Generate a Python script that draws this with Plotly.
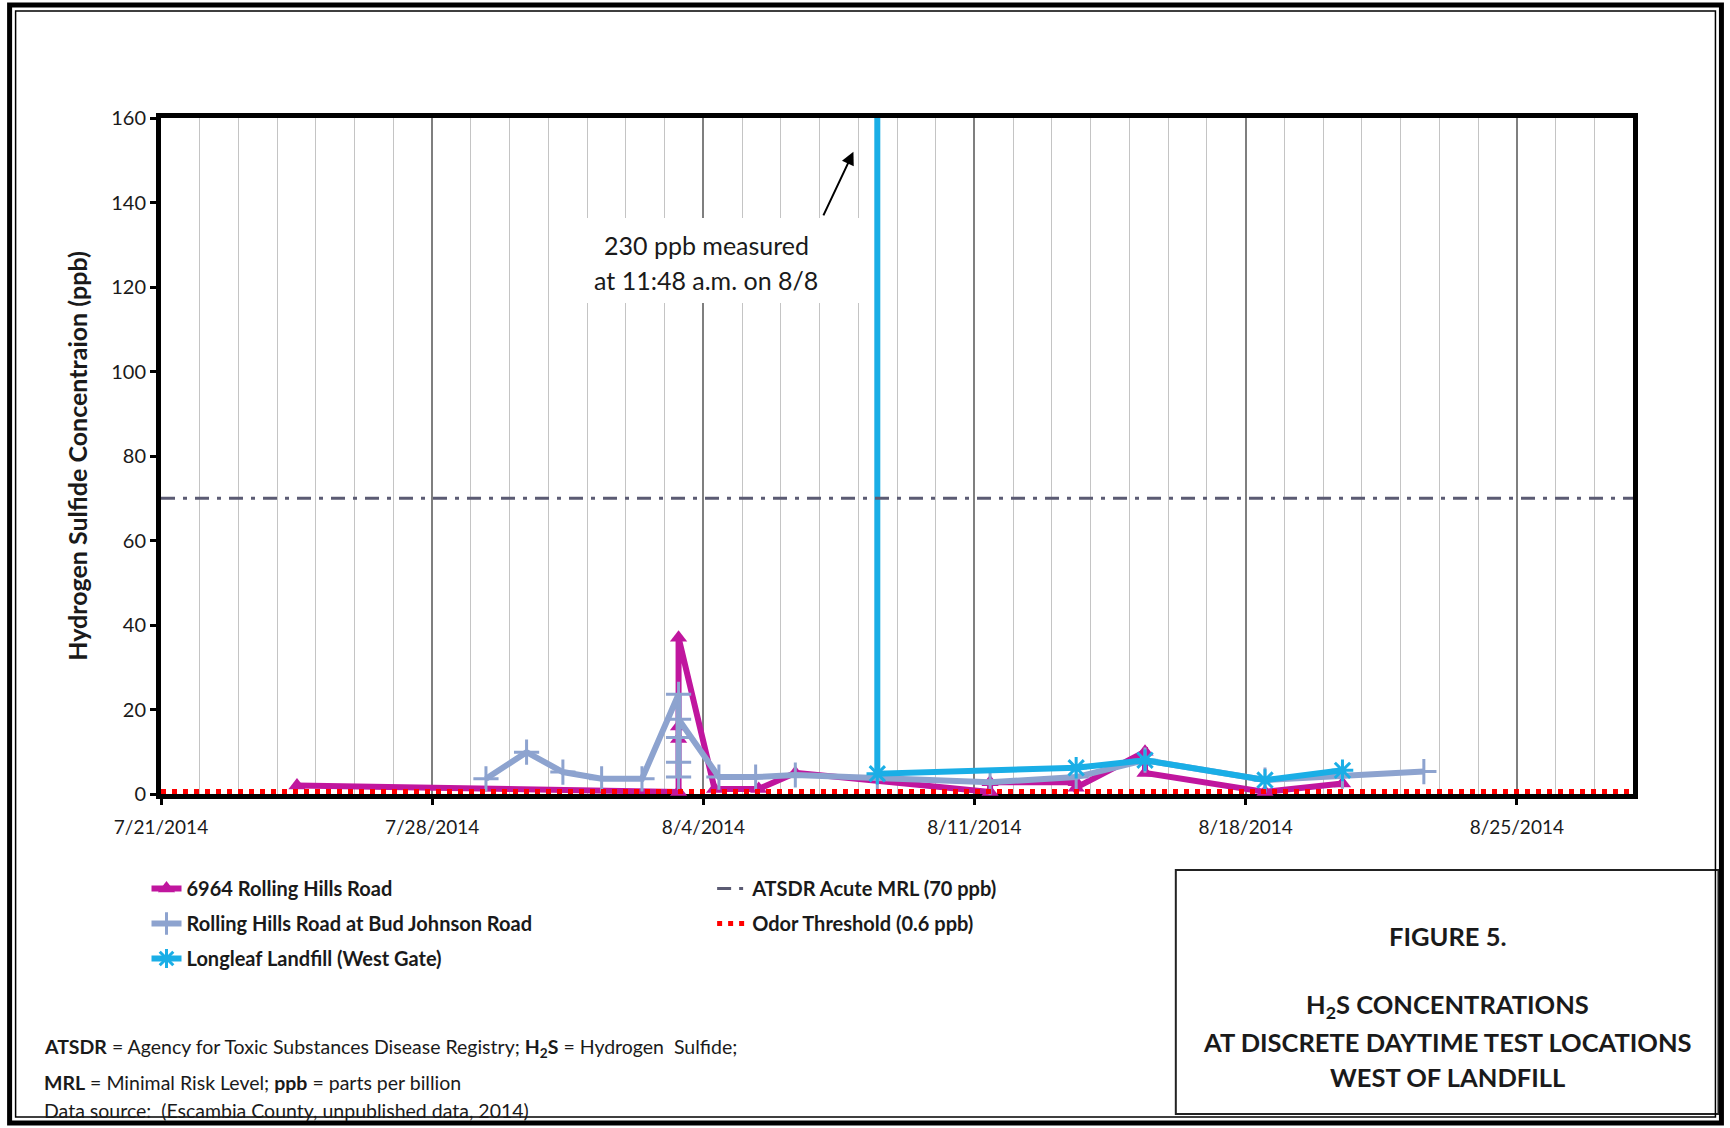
import plotly.graph_objects as go

# ---------------- data ----------------
rh_times = ["2014-07-24 12:15", "2014-08-03 08:40", "2014-08-03 08:40", "2014-08-03 08:40",
            "2014-08-03 08:40", "2014-08-04 07:00", "2014-08-05 10:20", "2014-08-06 09:00",
            "2014-08-11 09:40", "2014-08-11 09:40", "2014-08-13 15:00", "2014-08-13 15:00",
            "2014-08-15 09:40", "2014-08-15 09:40", "2014-08-18 12:00", "2014-08-20 12:00"]
rh_values = [2, 0.5, 13, 16, 37, 1.2, 1.2, 5, 0.5, 2.8, 2.8, 1.5, 10, 5, 0.5, 2.5]

bj_times = ["2014-07-29 09:20", "2014-07-30 10:30", "2014-07-31 09:00", "2014-08-01 09:00",
            "2014-08-02 10:00", "2014-08-03 08:40", "2014-08-03 08:40", "2014-08-03 08:40",
            "2014-08-03 08:40", "2014-08-03 08:40", "2014-08-04 09:40", "2014-08-05 08:25",
            "2014-08-06 09:00", "2014-08-08 11:48", "2014-08-11 09:40", "2014-08-13 15:00",
            "2014-08-15 09:40", "2014-08-18 12:00", "2014-08-20 12:00", "2014-08-22 14:25"]
bj_values = [3.6, 9.9, 5.2, 3.6, 3.6, 23.6, 4, 7.5, 13.4, 17.7, 4, 4, 4.5, 3.8, 2.8, 4, 8,
             3.3, 4.2, 5.3]

lf_times = ["2014-08-08 11:48", "2014-08-08 11:48", "2014-08-13 15:00", "2014-08-15 09:40",
            "2014-08-18 12:00", "2014-08-20 12:00"]
lf_values = [230, 4.8, 6.2, 8, 3.3, 5.6]

ref_times = ["2014-07-21", "2014-08-28"]
mrl_values = [70, 70]
odor_values = [0.6, 0.6]

x_range = ["2014-07-21", "2014-08-28"]
y_range = [0, 160]

# ---------------- layout helpers ----------------
W, H = 1730, 1128
L, R, T, B = 160.5, 1633.5, 118, 794  # plot area pixel box


def px(x):
    return (x - L) / (R - L)


def py(y):
    return (B - y) / (B - T)


FONT = "Lato"
TXT = "#1a1a1a"

fig = go.Figure()

fig.add_trace(go.Scatter(
    x=rh_times, y=rh_values, name="6964 Rolling Hills Road", mode="lines+markers",
    line=dict(color="#C0169E", width=6), cliponaxis=False,
    marker=dict(symbol="triangle-up", size=15, color="#C0169E"),
    legend="legend", legendgroup="a"))
fig.add_trace(go.Scatter(
    x=bj_times, y=bj_values, name="Rolling Hills Road at Bud Johnson Road", mode="lines+markers",
    line=dict(color="#8DA3CF", width=6), cliponaxis=False,
    marker=dict(symbol="cross-thin", size=18, color="#8DA3CF",
                line=dict(color="#8DA3CF", width=3)),
    legend="legend", legendgroup="b"))
fig.add_trace(go.Scatter(
    x=lf_times, y=lf_values, name="Longleaf Landfill (West Gate)", mode="lines+markers",
    line=dict(color="#1AAEE6", width=6),
    marker=dict(symbol="asterisk-open", size=18, color="#1AAEE6",
                line=dict(color="#1AAEE6", width=3)),
    legend="legend", legendgroup="c"))
fig.add_trace(go.Scatter(
    x=ref_times, y=mrl_values, name="ATSDR Acute MRL (70 ppb)", mode="lines",
    line=dict(color="#5B5B73", width=3, dash="14px,8px,4px,8px"),
    legend="legend2", legendgroup="d"))
fig.add_trace(go.Scatter(
    x=ref_times, y=odor_values, name="Odor Threshold (0.6 ppb)", mode="lines",
    line=dict(color="#FF0000", width=5, dash="5px,6px"),
    legend="legend2", legendgroup="e"))

legend_common = dict(bgcolor="rgba(0,0,0,0)", xanchor="left", yanchor="top",
                     font=dict(family=FONT, size=20, color=TXT, weight="bold"),
                     tracegroupgap=6)

fig.update_layout(
    width=W, height=H,
    margin=dict(l=L, r=W - R, t=T, b=H - B),
    paper_bgcolor="white", plot_bgcolor="white",
    font=dict(family=FONT, color=TXT),
    legend=dict(x=px(146), y=py(869), **legend_common),
    legend2=dict(x=px(712), y=py(869), **legend_common),
    xaxis=dict(
        type="date", range=x_range, tick0="2014-07-21", dtick=7 * 86400000,
        tickformat="%-m/%-d/%Y", tickfont=dict(family=FONT, size=19, color=TXT),
        ticks="outside", ticklen=6, tickwidth=3, tickcolor="black",
        showline=True, linewidth=5, linecolor="black", mirror=True,
        showgrid=True, gridcolor="#7F7F7F", gridwidth=2,
        minor=dict(dtick=86400000, showgrid=True, gridcolor="#C4C4C4", gridwidth=1.3, ticks=""),
        zeroline=False, layer="below traces", ticklabelstandoff=6),
    yaxis=dict(
        range=y_range, dtick=20, tickfont=dict(family=FONT, size=20, color=TXT),
        ticks="outside", ticklen=6, tickwidth=3, tickcolor="black",
        showline=True, linewidth=5, linecolor="black", mirror=True,
        showgrid=False, zeroline=False, layer="below traces",
        title=dict(text="Hydrogen Sulfide Concentraion (ppb)", standoff=18,
                   font=dict(family=FONT, size=25, color=TXT, weight="bold"))),
)

# white box masking gridlines behind the off-scale note
fig.add_shape(type="rect", xref="paper", yref="paper", layer="above",
              x0=px(582), x1=px(868), y0=py(218), y1=py(303),
              fillcolor="white", line=dict(width=0))
for txt, yy in [("230 ppb measured", 245), ("at 11:48 a.m. on 8/8", 280)]:
    fig.add_annotation(
        x=px(706), y=py(yy), xref="paper", yref="paper", text=txt, showarrow=False,
        xanchor="center", yanchor="middle",
        font=dict(family=FONT, size=25, color=TXT))
fig.add_annotation(
    x="2014-08-07 21:00", y=152, xref="x", yref="y", text=" ", showarrow=True,
    ax=-33, ay=70, arrowhead=2, arrowsize=1.3, arrowwidth=2, arrowcolor="black")

# notes
notes = [
    ("<b>ATSDR</b> = Agency for Toxic Substances Disease Registry; <b>H<sub>2</sub>S</b> = Hydrogen  Sulfide;", 1048),
    ("<b>MRL</b> = Minimal Risk Level; <b>ppb</b> = parts per billion", 1082),
    ("Data source:  (Escambia County, unpublished data, 2014)", 1110),
]
for txt, yy in notes:
    fig.add_annotation(x=px(41), y=py(yy), xref="paper", yref="paper", text=txt,
                       showarrow=False, xanchor="left", yanchor="middle",
                       font=dict(family=FONT, size=19.5, color=TXT))

# figure box
fig.add_shape(type="rect", xref="paper", yref="paper",
              x0=px(1176), x1=px(1719), y0=py(870), y1=py(1114),
              line=dict(color="#222222", width=2))
box_lines = [("<b>FIGURE 5.</b>", 936),
             ("<b>H<sub>2</sub>S CONCENTRATIONS</b>", 1006),
             ("<b>AT DISCRETE DAYTIME TEST LOCATIONS</b>", 1042),
             ("<b>WEST OF LANDFILL</b>", 1077)]
for txt, yy in box_lines:
    fig.add_annotation(x=px(1448), y=py(yy), xref="paper", yref="paper", text=txt,
                       showarrow=False, xanchor="center", yanchor="middle",
                       font=dict(family=FONT, size=25.5, color=TXT))

# outer double frame
fig.add_shape(type="rect", xref="paper", yref="paper",
              x0=px(9), x1=px(1722), y0=py(5), y1=py(1123),
              line=dict(color="black", width=5))
fig.add_shape(type="rect", xref="paper", yref="paper",
              x0=px(15), x1=px(1716), y0=py(11), y1=py(1117),
              line=dict(color="black", width=1.5))

fig.write_html("out.html", config={"displayModeBar": False},
               post_script="document.body.style.margin='0';")
